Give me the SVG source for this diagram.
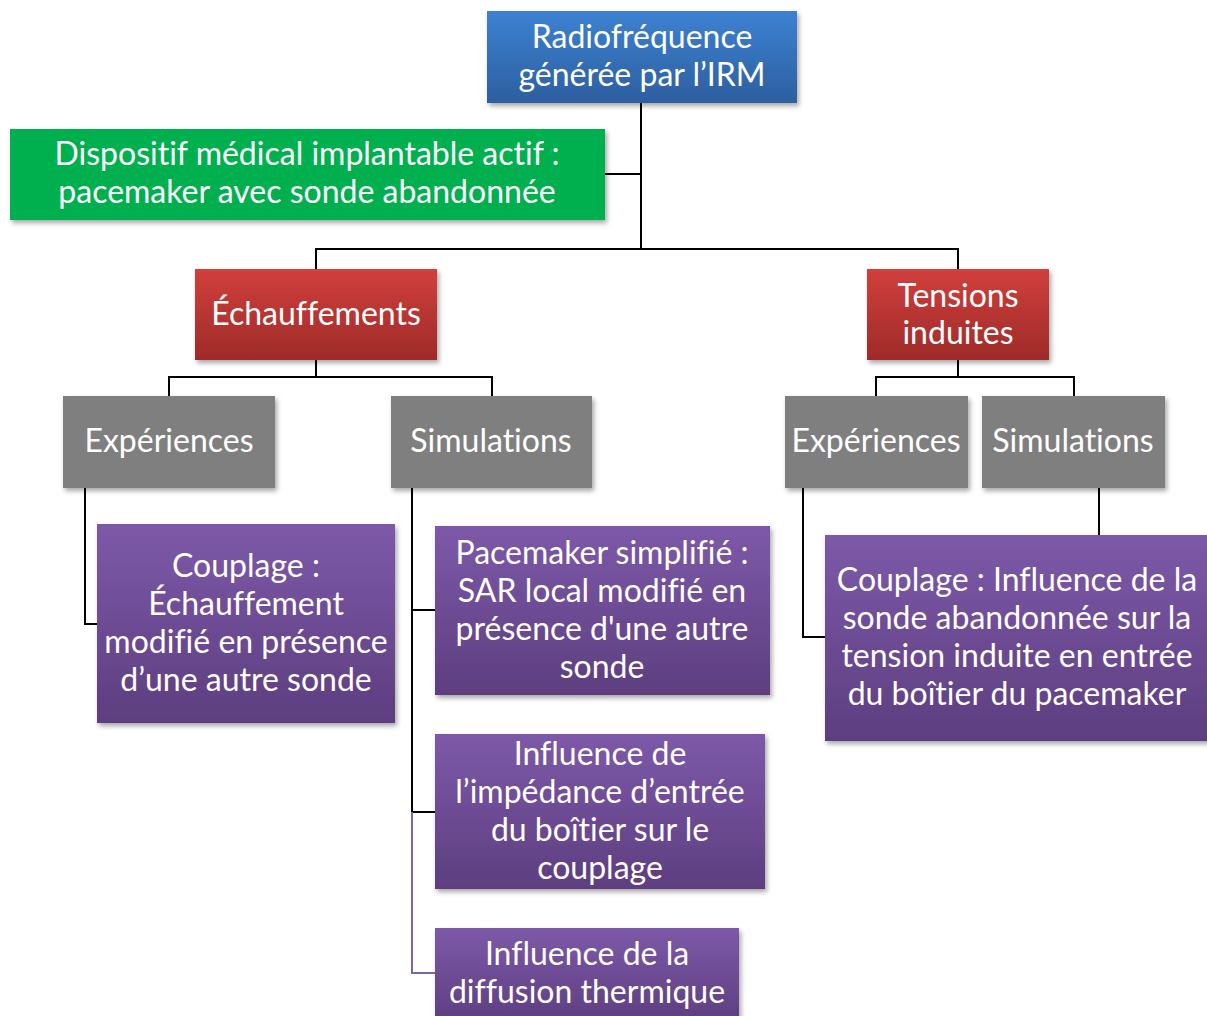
<svg xmlns="http://www.w3.org/2000/svg" width="1207" height="1016" viewBox="0 0 1207 1016">
  <style>
    .t { font-family: Lato, "Liberation Sans", sans-serif; font-size: 32px; fill: #ffffff; text-anchor: middle; font-variant-ligatures: none; font-feature-settings: "liga" 0, "clig" 0; }
    .c { fill: none; stroke: #000000; stroke-width: 2; }
    .cp { fill: none; stroke: #8064a2; stroke-width: 2; }
  </style>
  <defs>
    <filter id="sh" x="-10%" y="-10%" width="130%" height="130%">
      <feDropShadow dx="2" dy="3" stdDeviation="2.5" flood-color="#000" flood-opacity="0.35"/>
    </filter>
    <linearGradient id="gBlue" x1="0" y1="0" x2="0" y2="1">
      <stop offset="0" stop-color="#3d81d3"/>
      <stop offset="1" stop-color="#2d5f9f"/>
    </linearGradient>
    <linearGradient id="gRed" x1="0" y1="0" x2="0" y2="1">
      <stop offset="0" stop-color="#d13f3c"/>
      <stop offset="1" stop-color="#9e2b29"/>
    </linearGradient>
    <linearGradient id="gPurple" x1="0" y1="0" x2="0" y2="1">
      <stop offset="0" stop-color="#7d59a9"/>
      <stop offset="1" stop-color="#5d3e7f"/>
    </linearGradient>
  </defs>
  <rect width="1207" height="1016" fill="#ffffff"/>

  <g id="connectors">
    <path class="c" d="M641,103 V249 M605,174 H641 M316,269 V249 H958 V269"/>
    <path class="c" d="M316,360 V377 M169,396 V377 H492 V396"/>
    <path class="c" d="M958,360 V377 M876,396 V377 H1074 V396"/>
    <path class="c" d="M85,488 V624 H97"/>
    <path class="c" d="M412,488 V812 M412,610 H435 M412,812 H435"/>
    <path class="cp" d="M412,812 V973 H435"/>
    <path class="c" d="M803,488 V637 H825"/>
    <path class="c" d="M1099,488 V540"/>
  </g>

  <g id="node-rf">
    <rect x="487" y="11" width="310" height="92" fill="url(#gBlue)" filter="url(#sh)"/>
    <text class="t" x="642" y="48">Radiofréquence</text>
    <text class="t" x="642" y="86">générée par l’IRM</text>
  </g>

  <g id="node-dmia">
    <rect x="10" y="129" width="595" height="91" fill="#00b050" filter="url(#sh)"/>
    <text class="t" x="307" y="165">Dispositif médical implantable actif :</text>
    <text class="t" x="307" y="203">pacemaker avec sonde abandonnée</text>
  </g>

  <g id="node-echauffements">
    <rect x="195" y="269" width="242" height="91" fill="url(#gRed)" filter="url(#sh)"/>
    <text class="t" x="316" y="325">Échauffements</text>
  </g>

  <g id="node-tensions">
    <rect x="867" y="269" width="182" height="91" fill="url(#gRed)" filter="url(#sh)"/>
    <text class="t" x="958" y="307">Tensions</text>
    <text class="t" x="958" y="344">induites</text>
  </g>

  <g id="node-exp-left">
    <rect x="63" y="396" width="212" height="92" fill="#7f7f7f" filter="url(#sh)"/>
    <text class="t" x="169" y="452">Expériences</text>
  </g>

  <g id="node-sim-left">
    <rect x="391" y="396" width="201" height="92" fill="#7f7f7f" filter="url(#sh)"/>
    <text class="t" x="491" y="452">Simulations</text>
  </g>

  <g id="node-exp-right">
    <rect x="785" y="396" width="183" height="92" fill="#7f7f7f" filter="url(#sh)"/>
    <text class="t" x="876" y="452">Expériences</text>
  </g>

  <g id="node-sim-right">
    <rect x="982" y="396" width="183" height="92" fill="#7f7f7f" filter="url(#sh)"/>
    <text class="t" x="1073" y="452">Simulations</text>
  </g>

  <g id="node-couplage-left">
    <rect x="97" y="524" width="298" height="199" fill="url(#gPurple)" filter="url(#sh)"/>
    <text class="t" x="246" y="577">Couplage :</text>
    <text class="t" x="246" y="615">Échauffement</text>
    <text class="t" x="246" y="653">modifié en présence</text>
    <text class="t" x="246" y="691">d’une autre sonde</text>
  </g>

  <g id="node-pacemaker-simplifie">
    <rect x="435" y="526" width="335" height="169" fill="url(#gPurple)" filter="url(#sh)"/>
    <text class="t" x="602" y="564">Pacemaker simplifié :</text>
    <text class="t" x="602" y="602">SAR local modifié en</text>
    <text class="t" x="602" y="640">présence d'une autre</text>
    <text class="t" x="602" y="678">sonde</text>
  </g>

  <g id="node-impedance">
    <rect x="435" y="734" width="330" height="155" fill="url(#gPurple)" filter="url(#sh)"/>
    <text class="t" x="600" y="765">Influence de</text>
    <text class="t" x="600" y="803">l’impédance d’entrée</text>
    <text class="t" x="600" y="841">du boîtier sur le</text>
    <text class="t" x="600" y="879">couplage</text>
  </g>

  <g id="node-diffusion">
    <rect x="435" y="928" width="304" height="95" fill="url(#gPurple)" filter="url(#sh)"/>
    <text class="t" x="587" y="965">Influence de la</text>
    <text class="t" x="587" y="1003">diffusion thermique</text>
  </g>

  <g id="node-couplage-right">
    <rect x="825" y="535" width="390" height="206" fill="url(#gPurple)" filter="url(#sh)"/>
    <text class="t" x="1017" y="591">Couplage : Influence de la</text>
    <text class="t" x="1017" y="629">sonde abandonnée sur la</text>
    <text class="t" x="1017" y="667">tension induite en entrée</text>
    <text class="t" x="1017" y="705">du boîtier du pacemaker</text>
  </g>
</svg>
